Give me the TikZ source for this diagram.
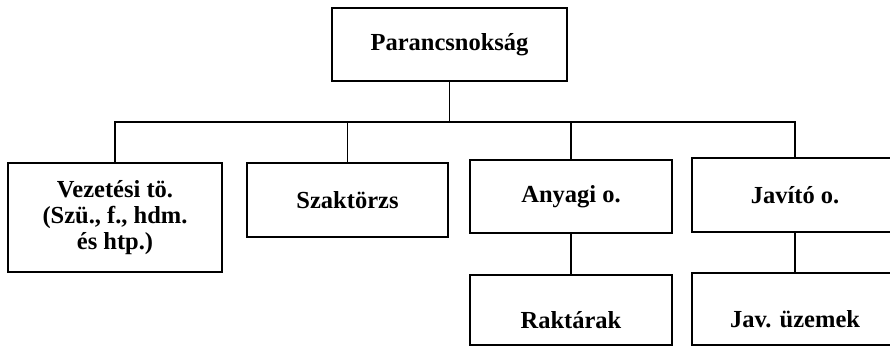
\documentclass[tikz,border=0pt]{standalone}
\usepackage{fontspec}
\setmainfont{Liberation Serif}
\usepackage{tikz}
\usetikzlibrary{calc}

\tikzset{box/.style={draw, inner sep=0pt, align=center, font=\bfseries\fontsize{24.5}{26}\selectfont}}

\begin{document}
\begin{tikzpicture}[x=1pt, y=-1pt, line width=1.3pt] % 1pt = 1px、y軸は下向き
  \clip (0,0) rectangle (890,347); % 画像の範囲（右端の箱は切れる）

  \node[box, minimum width=235pt, minimum height=73pt] (pk) at (449.5,44.5) {Parancsnoks\'ag}; % 最上段
  \node[box, minimum width=214pt, minimum height=109pt] (vez) at (115,217.5) {Vezet\'esi t\"o.\\(Sz\"u., f., hdm.\\\'es htp.)};
  \node[box, minimum width=201pt, minimum height=74pt] (szak) at (347.5,200) {Szakt\"orzs};
  \node[box, minimum width=202pt, minimum height=73pt] (anyag) at (571,196.5) {Anyagi o.};
  \node[box, minimum width=206pt, minimum height=74pt] (javit) at (795,195) {Jav\'it\'o o.};
  \node[box, minimum width=202pt, minimum height=70pt, text height=36pt, text depth=0pt] (rakt) at (571,310) {Rakt\'arak}; % 下段、文字は下寄せ
  \node[box, minimum width=206pt, minimum height=72pt, text height=40pt, text depth=4pt] (javuz) at (795,309) {Jav. \"uzemek};

  \coordinate (bus) at (449.5,122); % 横線の高さ
  \draw (pk.south) -- (pk.south |- bus);
  \draw (vez.north) |- (bus) -| (javit.north); % 横線
  \draw (szak.north) -- (szak.north |- bus);
  \draw (anyag.north) -- (anyag.north |- bus);
  \draw (anyag.south) -- (rakt.north);
  \draw (javit.south) -- (javuz.north);
\end{tikzpicture}
\end{document}
